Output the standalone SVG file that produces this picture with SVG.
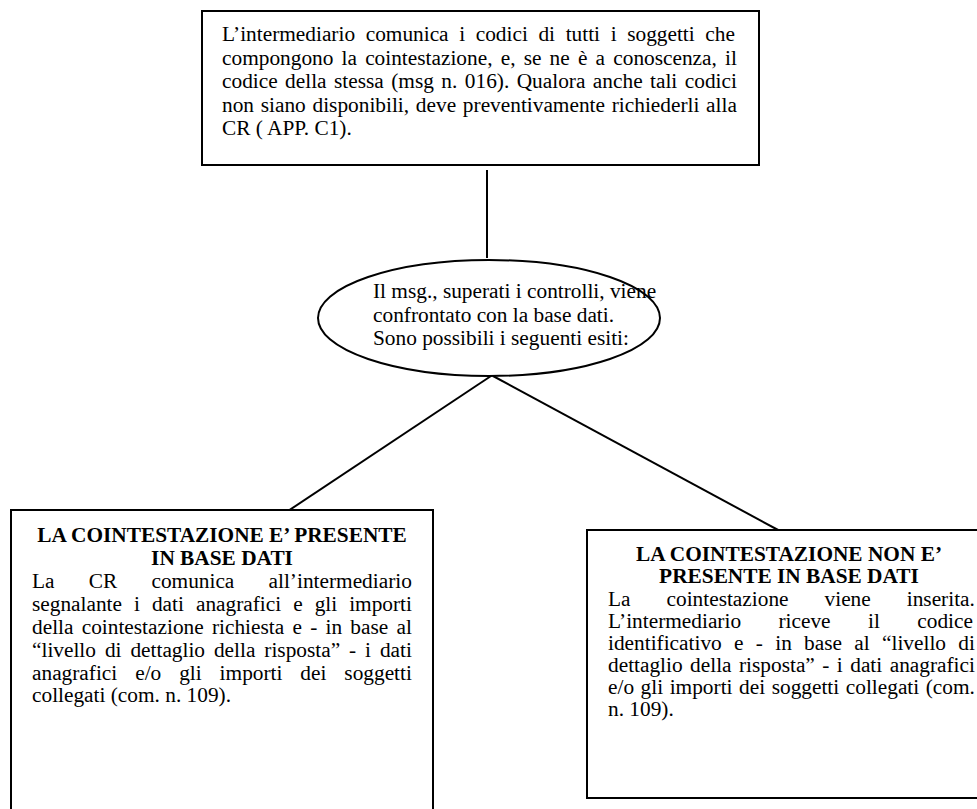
<svg xmlns="http://www.w3.org/2000/svg" width="977" height="809" viewBox="0 0 977 809">
<style>
  .box { fill: #fff; stroke: #000; stroke-width: 2; }
  .conn { stroke: #000; stroke-width: 2; fill: none; }
  text { font-family: "Liberation Serif", "Times New Roman", serif; font-size: 21.33px; fill: #000; }
  .b { font-weight: bold; }
  .c { text-anchor: middle; }
</style>
<rect width="977" height="809" fill="#fff"/>
<g id="connectors">
  <line class="conn" x1="487" y1="170" x2="487" y2="258"/>
  <line class="conn" x1="491" y1="376" x2="288" y2="511"/>
  <line class="conn" x1="493" y1="376" x2="780" y2="531"/>
</g>
<g id="node-top">
  <rect class="box" x="202" y="11" width="557" height="154" stroke-width="2.5"/>
  <text x="222" y="41" word-spacing="5.28">L’intermediario comunica i codici di tutti i soggetti che</text>
  <text x="222" y="64.5" word-spacing="2.86">compongono la cointestazione, e, se ne è a conoscenza, il</text>
  <text x="222" y="88" word-spacing="2.13">codice della stessa (msg n. 016). Qualora anche tali codici</text>
  <text x="222" y="111.5" word-spacing="1.42">non siano disponibili, deve preventivamente richiederli alla</text>
  <text x="222" y="135">CR ( APP. C1).</text>
</g>
<g id="node-ellipse">
  <ellipse class="box" cx="489" cy="318" rx="171" ry="58"/>
  <text x="373" y="298">Il msg., superati i controlli, viene</text>
  <text x="373" y="321.5">confrontato con la base dati.</text>
  <text x="373" y="345">Sono possibili i seguenti esiti:</text>
</g>
<g id="node-left">
  <rect class="box" x="11" y="510" width="422" height="320"/>
  <text class="b c" x="222" y="542">LA COINTESTAZIONE E’ PRESENTE</text>
  <text class="b c" x="222" y="565">IN BASE DATI</text>
  <text x="32" y="588" word-spacing="28.9">La CR comunica all’intermediario</text>
  <text x="32" y="611" word-spacing="6.67">segnalante i dati anagrafici e gli importi</text>
  <text x="32" y="634" word-spacing="2.92">della cointestazione richiesta e - in base al</text>
  <text x="32" y="657" word-spacing="3.59">“livello di dettaglio della risposta” - i dati</text>
  <text x="32" y="680" word-spacing="12.6">anagrafici e/o gli importi dei soggetti</text>
  <text x="32" y="702">collegati (com. n. 109).</text>
</g>
<g id="node-right">
  <rect class="box" x="587" y="530" width="420" height="268"/>
  <text class="b c" x="789" y="561">LA COINTESTAZIONE NON E’</text>
  <text class="b c" x="789" y="583">PRESENTE IN BASE DATI</text>
  <text x="608" y="606" word-spacing="30.7">La cointestazione viene inserita.</text>
  <text x="608" y="628" word-spacing="32.1">L’intermediario riceve il codice</text>
  <text x="608" y="650" word-spacing="6.98">identificativo e - in base al “livello di</text>
  <text x="608" y="672" word-spacing="2.13">dettaglio della risposta” - i dati anagrafici</text>
  <text x="608" y="694" word-spacing="1.23">e/o gli importi dei soggetti collegati (com.</text>
  <text x="608" y="716">n. 109).</text>
</g>
</svg>
